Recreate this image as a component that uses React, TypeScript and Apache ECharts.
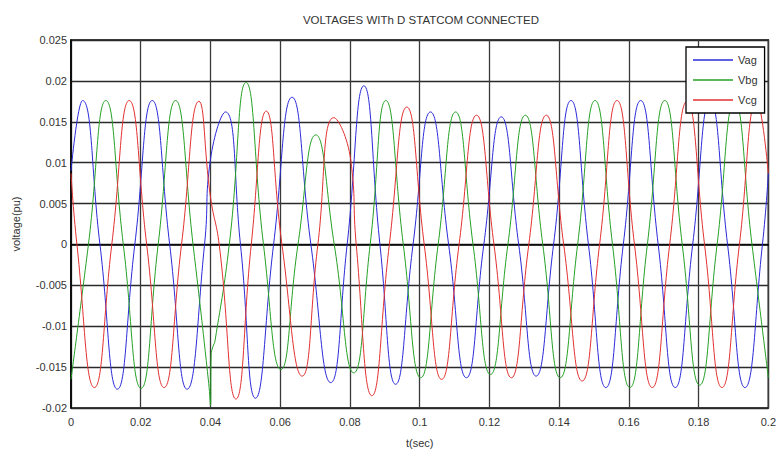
import React, { useEffect, useRef } from "react";
import * as echarts from "echarts";

const titleText = "VOLTAGES WITh D STATCOM CONNECTED";
const xAxisName = "t(sec)";
const yAxisName = "voltage(pu)";
const seriesNames = ["Vag", "Vbg", "Vcg"];
const seriesColors = ["#2a2ad8", "#25a025", "#e23030"];

// [time (s), voltage (pu)] (extrema, zero crossings, disturbance details)
const vagData: [number, number][] = [
  [0, 0.009], [0.0033, 0.0176], [0.0083, 0], [0.0133, -0.0177], [0.0183, 0],
  [0.0233, 0.0176], [0.0283, 0], [0.0333, -0.0177], [0.0383, 0], [0.04, 0.0104],
  [0.0443, 0.0162], [0.0486, 0], [0.0529, -0.0188], [0.0581, 0], [0.0634, 0.018],
  [0.0688, 0], [0.0745, -0.0169], [0.0792, 0], [0.084, 0.0194], [0.0886, 0],
  [0.0931, -0.0171], [0.0981, 0], [0.1031, 0.0162], [0.1083, 0], [0.1134, -0.0163],
  [0.1184, 0], [0.1234, 0.0156], [0.1284, 0], [0.1334, -0.0161], [0.1384, 0],
  [0.1434, 0.0176], [0.1484, 0], [0.1534, -0.0175], [0.1584, 0], [0.1634, 0.0176],
  [0.1684, 0], [0.1733, -0.0175], [0.1783, 0], [0.1833, 0.0176], [0.1883, 0],
  [0.1933, -0.0175], [0.1983, 0], [0.2, 0.0087],
];

const vbgData: [number, number][] = [
  [0, -0.0165], [0.005, 0], [0.01, 0.0176], [0.015, 0], [0.0201, -0.0176],
  [0.025, 0], [0.03, 0.0176], [0.035, 0], [0.0395, -0.017], [0.04, -0.0197],
  [0.0402, -0.0135], [0.0407, -0.0125], [0.0413, -0.0118], [0.0454, 0],
  [0.0502, 0.0198], [0.0552, 0], [0.0602, -0.0153], [0.0651, 0], [0.0702, 0.0134],
  [0.0755, 0], [0.0811, -0.0157], [0.0858, 0], [0.0903, 0.0176], [0.0953, 0],
  [0.1003, -0.0163], [0.1053, 0], [0.1103, 0.0162], [0.1153, 0], [0.1203, -0.0159],
  [0.1253, 0], [0.1303, 0.0158], [0.1353, 0], [0.1403, -0.0163], [0.1453, 0],
  [0.1503, 0.0176], [0.1553, 0], [0.1603, -0.0175], [0.1653, 0], [0.1703, 0.0176],
  [0.1753, 0], [0.1803, -0.0172], [0.1853, 0], [0.1903, 0.0175], [0.1953, 0],
  [0.2, -0.0163],
];

const vcgData: [number, number][] = [
  [0, 0.0087], [0.0017, 0], [0.0067, -0.0175], [0.0117, 0], [0.0167, 0.0176],
  [0.0217, 0], [0.0267, -0.0175], [0.0317, 0], [0.0367, 0.0175], [0.04, 0.0058],
  [0.0425, 0], [0.0473, -0.0189], [0.0517, 0], [0.056, 0.0163], [0.0605, 0],
  [0.0663, -0.0161], [0.0708, 0], [0.0754, 0.0155], [0.0802, 0.0104], [0.0818, 0],
  [0.0863, -0.0185], [0.0913, 0], [0.0963, 0.0168], [0.1013, 0], [0.1063, -0.0165],
  [0.1113, 0], [0.1163, 0.0158], [0.1213, 0], [0.1263, -0.0163], [0.1313, 0],
  [0.1363, 0.0158], [0.1413, 0], [0.1466, -0.0167], [0.1516, 0], [0.1566, 0.0176],
  [0.1616, 0], [0.1667, -0.0175], [0.1717, 0], [0.1767, 0.0175], [0.1817, 0],
  [0.1867, -0.0175], [0.1917, 0], [0.1967, 0.0175], [0.2, 0.0087],
];

const allData = [vagData, vbgData, vcgData];

const FONT = "'Liberation Sans', Arial, sans-serif";
const fmt = (v: number) => parseFloat(v.toFixed(4)).toString();

export default function App() {
  const ref = useRef<HTMLDivElement>(null);
  useEffect(() => {
    const chart = echarts.init(ref.current!, null, { renderer: "svg" });
    chart.setOption({
      animation: false,
      backgroundColor: "#ffffff",
      textStyle: { fontFamily: FONT },
      graphic: [
        {
          type: "text",
          x: 421,
          y: 20,
          style: {
            text: titleText,
            fill: "#333",
            fontSize: 11.5,
            fontFamily: FONT,
            textAlign: "center",
            textVerticalAlign: "middle",
          },
        },
      ],
      grid: {
        left: 71,
        right: 8,
        top: 40,
        bottom: 38,
        show: true,
        borderColor: "#000",
        borderWidth: 1.5,
        backgroundColor: "#fff",
      },
      legend: {
        orient: "vertical",
        left: 686,
        top: 47,
        padding: [7, 7, 7, 7],
        itemGap: 8,
        itemWidth: 40,
        itemHeight: 1.5,
        icon: "rect",
        backgroundColor: "#fff",
        borderColor: "#000",
        borderWidth: 1.3,
        textStyle: { fontSize: 11, color: "#333", lineHeight: 12, fontFamily: FONT },
        data: seriesNames,
      },
      xAxis: {
        type: "value",
        min: 0,
        max: 0.2,
        interval: 0.02,
        name: xAxisName,
        nameLocation: "middle",
        nameGap: 29,
        nameTextStyle: { fontSize: 11, color: "#333", fontFamily: FONT },
        axisLine: { show: true, lineStyle: { color: "#000", width: 1.5 } },
        axisTick: { show: false },
        axisLabel: { fontSize: 11, color: "#333", margin: 8, formatter: fmt, fontFamily: FONT },
        splitLine: { show: true, lineStyle: { color: "#3a3a3a", width: 1.3 } },
      },
      yAxis: {
        type: "value",
        min: -0.02,
        max: 0.025,
        interval: 0.005,
        name: yAxisName,
        nameLocation: "middle",
        nameGap: 50,
        nameTextStyle: { fontSize: 11, color: "#333", fontFamily: FONT },
        axisLine: { show: true, lineStyle: { color: "#000", width: 1.5 } },
        axisTick: { show: false },
        axisLabel: { fontSize: 11, color: "#333", margin: 4, formatter: fmt, fontFamily: FONT },
        splitLine: { show: true, lineStyle: { color: "#2a2a2a", width: 1.3 } },
      },
      series: seriesNames.map((name, i) => ({
        name,
        type: "line",
        data: allData[i],
        showSymbol: false,
        symbol: "none",
        smooth: 0.5,
        color: seriesColors[i],
        lineStyle: { color: seriesColors[i], width: 1 },
      })),
    });
    return () => chart.dispose();
  }, []);
  return (
    <div
      ref={ref}
      style={{ position: "absolute", left: 0, top: 0, width: 779, height: 453 }}
    />
  );
}
